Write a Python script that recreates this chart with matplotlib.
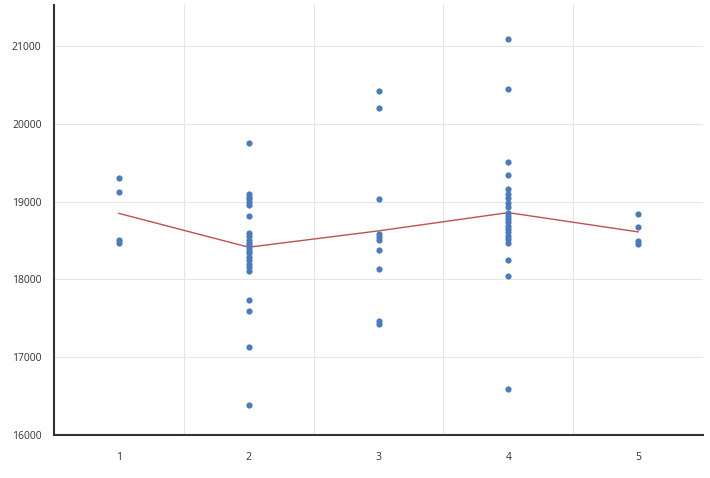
import numpy as np
import matplotlib.pyplot as plt

# Valores (grupo -> observaciones)
grupo1 = [19300, 19120, 18505, 18470]
grupo2 = [19755, 19100, 19065, 19030, 18995, 18955, 18820, 18600, 18560,
          18505, 18470, 18440, 18400, 18365, 18335, 18290, 18250, 18205,
          18160, 18110, 17735, 17600, 17130, 16390]
grupo3 = [20430, 20210, 19030, 18590, 18550, 18505, 18380, 18135, 17470, 17430]
grupo4 = [21090, 20450, 19510, 19350, 19160, 19105, 19050, 18990, 18935,
          18860, 18820, 18775, 18735, 18690, 18650, 18605, 18560, 18520,
          18465, 18250, 18045, 16590]
grupo5 = [18840, 18675, 18490, 18460]

grupos = [1, 2, 3, 4, 5]
medias = [18850, 18415, 18625, 18860, 18612]

datos = [grupo1, grupo2, grupo3, grupo4, grupo5]

fig = plt.figure(figsize=(7.1, 4.78), dpi=100)
ax = fig.add_axes([0.0761, 0.09, 0.914, 0.8995])

for g, vals in zip(grupos, datos):
    ax.scatter([g] * len(vals), vals, s=20, color='#4a7bbd', zorder=3, linewidths=0)

ax.plot(grupos, medias, color='#c0504d', linewidth=1.0, zorder=2)

ax.set_xlim(0.5, 5.5)
ax.set_ylim(16000, 21530)
ax.set_xticks(grupos)
ax.set_xticks([1.5, 2.5, 3.5, 4.5], minor=True)
ax.set_yticks([16000, 17000, 18000, 19000, 20000, 21000])

ax.grid(False)
ax.grid(True, which='minor', axis='x', color='#e6e6e6', linewidth=0.8)
ax.grid(True, which='major', axis='y', color='#e6e6e6', linewidth=0.8)
ax.set_axisbelow(True)

ax.tick_params(which='both', length=0, labelsize=7.5, labelcolor='#333333')
ax.tick_params(axis='x', pad=12)
ax.tick_params(axis='y', pad=9)

for s in ['top', 'right']:
    ax.spines[s].set_visible(False)
for s in ['left', 'bottom']:
    ax.spines[s].set_color('#333333')
    ax.spines[s].set_linewidth(1.5)

for lab in ax.get_xticklabels() + ax.get_yticklabels():
    lab.set_family('Open Sans')

fig.savefig('out.png', dpi=100)
